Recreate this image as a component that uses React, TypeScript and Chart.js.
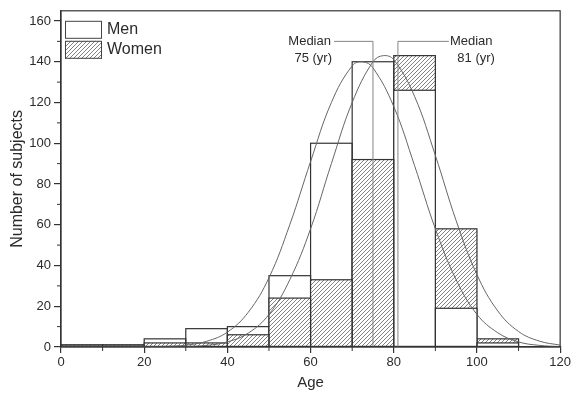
import React, { useEffect, useRef } from "react";
import { Chart, registerables } from "chart.js";

Chart.register(...registerables);

// ---- Data ----
const BIN_STARTS = [0, 10, 20, 30, 40, 50, 60, 70, 80, 90, 100];
const BIN_WIDTH = 10;
const MEN = [1, 1, 4, 9, 10, 35, 100, 140, 126, 19, 2];
const WOMEN = [1, 1, 2, 2, 6, 24, 33, 92, 143, 58, 4];

const MEN_FIT_AGE = [0, 10, 20, 25, 30, 35, 40, 45, 50, 55, 60, 65, 70, 72.5, 75, 80, 85, 90, 95, 100, 105, 110, 115, 120];
const MEN_FIT = [0, 0, 0.1, 0.3, 0.9, 2.8, 7.3, 17, 34, 60, 91, 120, 138, 140, 137, 118, 89, 58, 33, 16, 7, 2.5, 0.8, 0.2];

const WOMEN_FIT_AGE = [0, 10, 20, 25, 30, 35, 40, 45, 50, 55, 60, 65, 70, 75, 77.5, 80, 85, 90, 95, 100, 105, 110, 115, 120];
const WOMEN_FIT = [0, 0, 0, 0.1, 0.2, 0.8, 2.5, 6.8, 16, 33, 58, 90, 120, 140, 143, 141, 123, 94, 62, 35.5, 17.7, 7.6, 2.9, 0.9];

const MEDIAN_AGES = [75, 81];
const MEDIAN_TEXT = [
  ["Median", "75 (yr)"],
  ["Median", "81 (yr)"],
];
const MEDIAN_LABEL_LEVEL = 150;

const LEGEND_LABELS = ["Men", "Women"];
const X_TICK_MIN = 0;
const X_TICK_MAX = 120;
const X_TICK_STEP = 20;
const Y_TICK_MIN = 0;
const Y_AXIS_MAX = 165;
const Y_TICK_STEP = 20;
const X_TITLE = "Age";
const Y_TITLE = "Number of subjects";

const FONT = "'Liberation Sans', Arial, Helvetica, sans-serif";
const INK = "#2b2b2b";
const AXIS = "#333333";

function makeHatch(ctx: CanvasRenderingContext2D): CanvasPattern | string {
  const c = document.createElement("canvas");
  c.width = 4;
  c.height = 4;
  const g = c.getContext("2d");
  if (!g) return "#bbb";
  g.fillStyle = "#ffffff";
  g.fillRect(0, 0, 4, 4);
  g.strokeStyle = "#6a6a6a";
  g.lineWidth = 0.85;
  g.beginPath();
  g.moveTo(0, 4);
  g.lineTo(4, 0);
  g.moveTo(-1, 1);
  g.lineTo(1, -1);
  g.moveTo(3, 5);
  g.lineTo(5, 3);
  g.stroke();
  return ctx.createPattern(c, "repeat") || "#bbb";
}

export default function App() {
  const canvasRef = useRef<HTMLCanvasElement | null>(null);

  useEffect(() => {
    document.body.style.margin = "0";
    const canvas = canvasRef.current;
    if (!canvas) return;
    const ctx0 = canvas.getContext("2d");
    if (!ctx0) return;
    const hatch = makeHatch(ctx0);

    const centers = BIN_STARTS.map((s) => s + BIN_WIDTH / 2);
    const backVals = BIN_STARTS.map((_, i) => Math.max(MEN[i], WOMEN[i]));
    const frontVals = BIN_STARTS.map((_, i) => Math.min(MEN[i], WOMEN[i]));
    const backColors = BIN_STARTS.map((_, i) => (MEN[i] >= WOMEN[i] ? "#ffffff" : hatch));
    const frontColors = BIN_STARTS.map((_, i) => (MEN[i] >= WOMEN[i] ? hatch : "#ffffff"));

    const outlinePlugin = {
      id: "barOutline",
      afterDatasetDraw(chart: any, args: any) {
        const meta = args.meta;
        if (meta.type !== "bar") return;
        const ctx = chart.ctx;
        ctx.save();
        ctx.strokeStyle = AXIS;
        ctx.lineWidth = 1.2;
        meta.data.forEach((el: any) => {
          const p = el.getProps(["x", "y", "base", "width"], true);
          const h = p.base - p.y;
          if (h <= 0.2) return;
          ctx.strokeRect(p.x - p.width / 2, p.y, p.width, h);
        });
        ctx.restore();
      },
    };

    const decorPlugin = {
      id: "decor",
      afterDatasetsDraw(chart: any) {
        const ctx = chart.ctx;
        const xs = chart.scales.x;
        const ys = chart.scales.y;
        const area = chart.chartArea;
        ctx.save();

        // median leaders
        ctx.strokeStyle = "#858585";
        ctx.lineWidth = 1;
        const ly = ys.getPixelForValue(MEDIAN_LABEL_LEVEL);
        const baseY = ys.getPixelForValue(0);
        const m0 = xs.getPixelForValue(MEDIAN_AGES[0]);
        const m1 = xs.getPixelForValue(MEDIAN_AGES[1]);
        ctx.beginPath();
        ctx.moveTo(m0 - 39, ly);
        ctx.lineTo(m0, ly);
        ctx.lineTo(m0, baseY);
        ctx.moveTo(m1 + 51, ly);
        ctx.lineTo(m1, ly);
        ctx.lineTo(m1, baseY);
        ctx.stroke();

        ctx.fillStyle = INK;
        ctx.font = `13px ${FONT}`;
        ctx.textBaseline = "middle";
        ctx.textAlign = "right";
        ctx.fillText(MEDIAN_TEXT[0][0], m0 - 42, ly);
        ctx.fillText(MEDIAN_TEXT[0][1], m0 - 41, ly + 17);
        ctx.textAlign = "left";
        ctx.fillText(MEDIAN_TEXT[1][0], m1 + 52, ly);
        ctx.textAlign = "right";
        ctx.fillText(MEDIAN_TEXT[1][1], m1 + 97, ly + 17);

        // frame
        ctx.strokeStyle = AXIS;
        ctx.lineWidth = 1.2;
        ctx.strokeRect(area.left, area.top, area.right - area.left, area.bottom - area.top);

        // minor ticks
        ctx.lineWidth = 1;
        ctx.beginPath();
        for (let v = Y_TICK_MIN + Y_TICK_STEP / 2; v < Y_AXIS_MAX; v += Y_TICK_STEP) {
          const py = ys.getPixelForValue(v);
          ctx.moveTo(area.left - 4, py);
          ctx.lineTo(area.left, py);
        }
        for (let v = X_TICK_MIN + X_TICK_STEP / 2; v < X_TICK_MAX; v += X_TICK_STEP) {
          const px = xs.getPixelForValue(v);
          ctx.moveTo(px, area.bottom);
          ctx.lineTo(px, area.bottom + 4);
        }
        ctx.stroke();

        // legend
        const lx = area.left + 4;
        const boxes = [
          { top: area.top + 10, fill: "#ffffff" as any },
          { top: area.top + 30, fill: hatch as any },
        ];
        ctx.font = `16px ${FONT}`;
        ctx.textAlign = "left";
        ctx.textBaseline = "middle";
        boxes.forEach((b, i) => {
          ctx.fillStyle = b.fill;
          ctx.fillRect(lx, b.top, 37, 18);
          ctx.strokeStyle = "#444";
          ctx.lineWidth = 1;
          ctx.strokeRect(lx + 0.5, b.top + 0.5, 36, 17);
          ctx.fillStyle = INK;
          ctx.fillText(LEGEND_LABELS[i], lx + 42, b.top + 9);
        });

        ctx.restore();
      },
    };

    const chart = new Chart(canvas, {
      type: "bar",
      data: {
        datasets: [
          {
            type: "line",
            label: "Men fit",
            data: MEN_FIT_AGE.map((a, i) => ({ x: a, y: MEN_FIT[i] })),
            borderColor: "#666666",
            borderWidth: 1,
            pointRadius: 0,
            tension: 0.4,
            fill: false,
            order: 1,
          } as any,
          {
            type: "line",
            label: "Women fit",
            data: WOMEN_FIT_AGE.map((a, i) => ({ x: a, y: WOMEN_FIT[i] })),
            borderColor: "#666666",
            borderWidth: 1,
            pointRadius: 0,
            tension: 0.4,
            fill: false,
            order: 1,
          } as any,
          {
            type: "bar",
            label: "front",
            data: centers.map((c, i) => ({ x: c, y: frontVals[i] })),
            backgroundColor: frontColors as any,
            borderWidth: 0,
            grouped: false,
            barPercentage: 1,
            categoryPercentage: 1,
            inflateAmount: 0,
            order: 2,
          } as any,
          {
            type: "bar",
            label: "back",
            data: centers.map((c, i) => ({ x: c, y: backVals[i] })),
            backgroundColor: backColors as any,
            borderWidth: 0,
            grouped: false,
            barPercentage: 1,
            categoryPercentage: 1,
            inflateAmount: 0,
            order: 3,
          } as any,
        ],
      },
      options: {
        animation: false,
        responsive: true,
        maintainAspectRatio: false,
        layout: { padding: { top: 5, right: 12, bottom: 0, left: 0 } },
        plugins: {
          legend: { display: false },
          tooltip: { enabled: false },
        },
        scales: {
          x: {
            type: "linear",
            min: X_TICK_MIN,
            max: X_TICK_MAX,
            offset: false,
            grid: {
              offset: false,
              drawOnChartArea: false,
              drawTicks: true,
              tickLength: 6,
              color: AXIS,
              lineWidth: 1.2,
            },
            border: { display: true, color: AXIS, width: 1.2 },
            ticks: {
              stepSize: X_TICK_STEP,
              includeBounds: false,
              color: INK,
              font: { family: FONT, size: 13 },
              padding: 2,
              maxRotation: 0,
            },
            title: {
              display: true,
              text: X_TITLE,
              color: INK,
              font: { family: FONT, size: 15 },
              padding: { top: 0, bottom: 5 },
            },
            afterFit(scale: any) {
              scale.height = 50;
            },
          } as any,
          y: {
            type: "linear",
            min: Y_TICK_MIN,
            max: Y_AXIS_MAX,
            grid: {
              drawOnChartArea: false,
              drawTicks: true,
              tickLength: 7,
              color: AXIS,
              lineWidth: 1.2,
            },
            border: { display: true, color: AXIS, width: 1.2 },
            ticks: {
              stepSize: Y_TICK_STEP,
              includeBounds: false,
              color: INK,
              font: { family: FONT, size: 13 },
              padding: 3,
            },
            title: {
              display: true,
              text: Y_TITLE,
              color: INK,
              font: { family: FONT, size: 16 },
              padding: { top: 8, bottom: 0 },
            },
            afterFit(scale: any) {
              scale.width = 61;
            },
          } as any,
        },
      },
      plugins: [outlinePlugin, decorPlugin],
    });

    return () => {
      chart.destroy();
    };
  }, []);

  return (
    <div style={{ position: "relative", width: 573, height: 397, background: "#fff" }}>
      <canvas ref={canvasRef} />
    </div>
  );
}
